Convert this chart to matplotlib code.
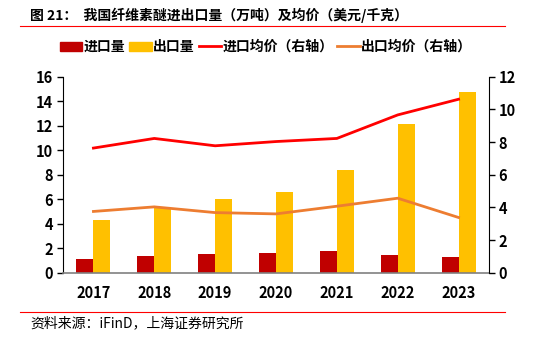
import numpy as np
import matplotlib
matplotlib.use("Agg")
import matplotlib.pyplot as plt
from matplotlib.patches import Patch
from matplotlib.lines import Line2D

plt.rcParams['font.family'] = ['Noto Sans CJK SC', 'DejaVu Sans']

# 数据
years = ['2017', '2018', '2019', '2020', '2021', '2022', '2023']
import_vol = [1.14, 1.39, 1.52, 1.61, 1.74, 1.44, 1.28]
export_vol = [4.30, 5.25, 6.02, 6.56, 8.35, 12.16, 14.75]
import_price = [7.63, 8.22, 7.77, 8.03, 8.22, 9.66, 10.62]
export_price = [3.75, 4.03, 3.68, 3.60, 4.07, 4.56, 3.38]

c_imp = '#C00000'
c_exp = '#FFC000'
c_imp_line = '#FF0000'
c_exp_line = '#ED7D31'

fig = plt.figure(figsize=(5.4, 3.47), dpi=100)
ax = fig.add_axes([63 / 540, 1 - 272.7 / 347, 426 / 540, 196 / 347])
ax2 = ax.twinx()

x = np.arange(len(years))
w = 0.28
ax.bar(x - w / 2, import_vol, w, color=c_imp, zorder=2)
ax.bar(x + w / 2, export_vol, w, color=c_exp, zorder=2)
ax2.plot(x, import_price, color=c_imp_line, lw=2)
ax2.plot(x, export_price, color=c_exp_line, lw=2)

ax.set_xlim(-0.5, len(years) - 0.5)
ax.set_ylim(0, 16)
ax.set_yticks(range(0, 17, 2))
ax2.set_ylim(0, 12)
ax2.set_yticks(range(0, 13, 2))
ax.set_xticks(x)
ax.set_xticklabels(years)

for a in (ax, ax2):
    a.spines['top'].set_visible(False)
    a.tick_params(axis='y', direction='out', length=4, width=1, color='black',
                  labelsize=10.5, pad=3)
    for lab in a.get_yticklabels():
        lab.set_fontweight('bold')
ax.spines['right'].set_visible(False)
ax2.spines['left'].set_visible(False)
ax2.spines['bottom'].set_visible(False)
ax.spines['left'].set_color('black')
ax2.spines['right'].set_color('black')
ax.spines['bottom'].set_color('#808080')
ax.spines['bottom'].set_linewidth(1.2)
ax.tick_params(axis='x', length=0, labelsize=10.5, pad=9)
for lab in ax.get_xticklabels():
    lab.set_fontweight('bold')

# 图例
handles = [Patch(color=c_imp), Patch(color=c_exp),
           Line2D([], [], color=c_imp_line, lw=2),
           Line2D([], [], color=c_exp_line, lw=2)]
labels = ['进口量', '出口量', '进口均价（右轴）', '出口均价（右轴）']
fig.legend(handles, labels, loc='center', bbox_to_anchor=(266 / 540, 1 - 47 / 347),
           ncol=4, frameon=False, handlelength=1.6, handleheight=0.6,
           handletextpad=0.1, columnspacing=0.3,
           prop={'size': 10, 'weight': 'bold'})

# 标题与来源
fig.text(30 / 540, 1 - 15 / 347, '图 21：  我国纤维素醚进出口量（万吨）及均价（美元/千克）',
         fontsize=10, fontweight='bold', va='center', ha='left')
fig.add_artist(Line2D([20 / 540, 505 / 540], [1 - 26 / 347] * 2, color='#FF0000', lw=0.8))
fig.add_artist(Line2D([20 / 540, 505 / 540], [1 - 312 / 347] * 2, color='#FF0000', lw=0.8))
fig.text(30 / 540, 1 - 323 / 347, '资料来源：iFinD，上海证券研究所',
         fontsize=10, style='italic', va='center', ha='left')

fig.savefig('out.png', dpi=100)
